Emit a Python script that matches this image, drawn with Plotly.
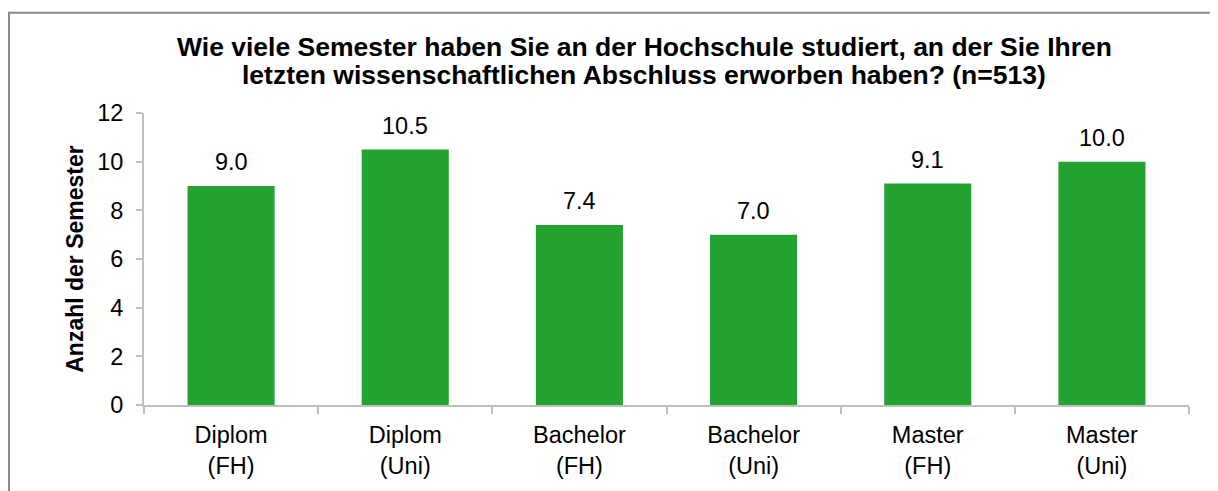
import plotly.graph_objects as go

categories = ["Diplom<br>(FH)", "Diplom<br>(Uni)", "Bachelor<br>(FH)", "Bachelor<br>(Uni)", "Master<br>(FH)", "Master<br>(Uni)"]
values = [9.0, 10.5, 7.4, 7.0, 9.1, 10.0]
y_ticks = [0, 2, 4, 6, 8, 10, 12]
title_lines = [
    "Wie viele Semester haben Sie an der Hochschule studiert, an der Sie Ihren",
    "letzten wissenschaftlichen Abschluss erworben haben? (n=513)",
]

# page has an 8px body margin; figure coordinates are page - 8
W, H = 1210, 483
L, R, T, B = 136, 29, 105, 82
pw, ph = W - L - R, H - T - B

font = "Liberation Sans, Arial, sans-serif"
axis_col = "#BFBFBF"
fs = 23.5

fig = go.Figure(go.Bar(
    x=categories, y=values,
    marker=dict(color="#24A232", line=dict(width=0)),
    hoverinfo="skip",
))

for c, v in zip(categories, values):
    fig.add_annotation(x=c, y=v, text=f"{v:.1f}", showarrow=False,
                       yanchor="bottom", yshift=9,
                       font=dict(family=font, size=fs, color="#000000"))

def px_x(p):
    return (p - L) / pw

def px_y(p):
    return (H - B - p) / ph

for i, line in enumerate(title_lines):
    fig.add_annotation(xref="paper", yref="paper", x=px_x(636), y=px_y(38 + 28 * i),
                       text=f"<b>{line}</b>", showarrow=False,
                       xanchor="center", yanchor="middle",
                       font=dict(family=font, size=26.5, color="#000000"))

fig.add_shape(type="rect", xref="paper", yref="paper",
              x0=px_x(1), x1=px_x(W + 20), y0=px_y(H + 20), y1=px_y(3.5),
              line=dict(color="#8A8A8A", width=2), fillcolor="rgba(0,0,0,0)", layer="above")

fig.update_layout(
    width=W, height=H,
    margin=dict(l=L, r=R, t=T, b=B),
    paper_bgcolor="white", plot_bgcolor="white",
    bargap=0.5,
    showlegend=False,
    font=dict(family=font, size=fs, color="#000000"),
    xaxis=dict(
        showline=True, linecolor=axis_col, linewidth=2,
        ticks="outside", tickson="boundaries", ticklen=7, tickcolor=axis_col, tickwidth=2,
        ticklabelstandoff=8,
        showgrid=False, zeroline=False,
        tickfont=dict(family=font, size=fs, color="#000000"),
    ),
    yaxis=dict(
        range=[0, 12], autorange=False,
        tickvals=y_ticks,
        showline=True, linecolor=axis_col, linewidth=2,
        ticks="outside", ticklen=6, tickcolor=axis_col, tickwidth=2,
        ticklabelstandoff=8,
        showgrid=False, zeroline=False,
        tickfont=dict(family=font, size=fs, color="#000000"),
        title=dict(text="<b>Anzahl der Semester</b>", standoff=7,
                   font=dict(family=font, size=23, color="#000000")),
    ),
)

fig.write_html("out.html")
